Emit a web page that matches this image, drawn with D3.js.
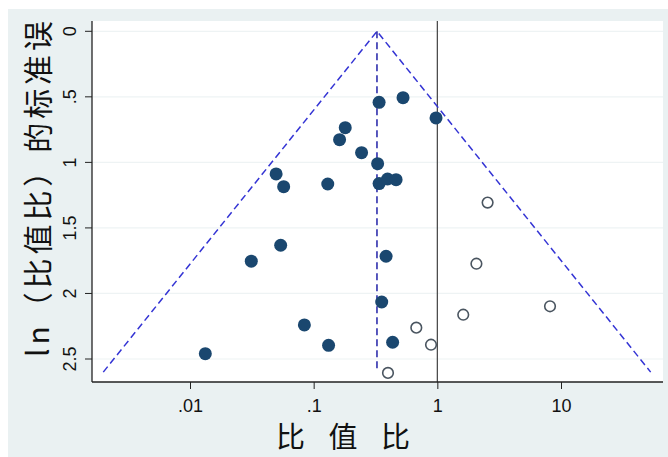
<!DOCTYPE html>
<html><head><meta charset="utf-8">
<script src="https://cdn.jsdelivr.net/npm/d3@7"></script>
<style>html,body{margin:0;padding:0;background:#fff}svg{display:block}</style>
</head><body>
<script>
// ---- data ----
const studyOR = [0.338,0.528,0.976,0.180,0.162,0.244,0.329,0.0497,0.0572,0.130,0.338,0.396,0.464,0.0541,0.0313,0.385,0.355,0.0841,0.132,0.435,0.0133];
const studySE = [0.542,0.506,0.661,0.735,0.827,0.926,1.010,1.088,1.185,1.165,1.162,1.127,1.132,1.632,1.754,1.716,2.065,2.240,2.396,2.372,2.459];
const filledOR = [2.07,1.62,0.676,0.889,0.399,2.55,8.15];
const filledSE = [1.773,2.162,2.261,2.391,2.606,1.307,2.098];
const pooledOR = 0.325;
const funnelMaxSE = 2.6;
const xTicks = [0.01,0.1,1,10];
const xTickLabels = [".01",".1","1","10"];
const yTicks = [0,0.5,1,1.5,2,2.5];
const yTickLabels = ["0",".5","1","1.5","2","2.5"];
const xTitle = "比 值 比";
const yTitle = "ln（比值比）的标准误";

const W=668,H=457;
const svg=d3.select("body").append("svg").attr("width",W).attr("height",H);
svg.append("rect").attr("width",W).attr("height",H).attr("fill","#fff");
svg.append("rect").attr("x",8).attr("y",9).attr("width",W-8).attr("height",H-9).attr("fill","#eaf1f2");
const L=92,R=663,T=21,B=382;
svg.append("rect").attr("x",L).attr("y",T).attr("width",R-L).attr("height",B-T).attr("fill","#fff");

const x=d3.scaleLog().domain([0.01,10]).range([190,561]);
const y=d3.scaleLinear().domain([0,2.5]).range([31.3,359]);

// grid
svg.append("g").selectAll("line").data(yTicks).join("line")
  .attr("x1",L).attr("x2",R).attr("y1",d=>y(d)).attr("y2",d=>y(d))
  .attr("stroke","#eef3f4").attr("stroke-width",1.2);

// reference line at OR=1
svg.append("line").attr("x1",x(1)).attr("x2",x(1)).attr("y1",T).attr("y2",B)
  .attr("stroke","#404040").attr("stroke-width",1.2);

// funnel
const lp=Math.log(pooledOR);
const fl=[[Math.exp(lp-1.96*funnelMaxSE),funnelMaxSE],[pooledOR,0],[Math.exp(lp+1.96*funnelMaxSE),funnelMaxSE]];
svg.append("path").attr("d",d3.line().x(d=>x(d[0])).y(d=>y(d[1]))(fl))
  .attr("fill","none").attr("stroke","#3434d4").attr("stroke-width",1.5).attr("stroke-dasharray","7,4");
svg.append("line").attr("x1",x(pooledOR)).attr("x2",x(pooledOR)).attr("y1",y(0)).attr("y2",y(funnelMaxSE))
  .attr("stroke","#2222a8").attr("stroke-width",1.5).attr("stroke-dasharray","7,4");

// points
svg.append("g").selectAll("circle").data(studyOR.map((v,i)=>[v,studySE[i]])).join("circle")
  .attr("cx",d=>x(d[0])).attr("cy",d=>y(d[1])).attr("r",6.5).attr("fill","#1a476f");
svg.append("g").selectAll("circle").data(filledOR.map((v,i)=>[v,filledSE[i]])).join("circle")
  .attr("cx",d=>x(d[0])).attr("cy",d=>y(d[1])).attr("r",5.3).attr("fill","none")
  .attr("stroke","#4a5560").attr("stroke-width",1.6);

// axes
const ax=svg.append("g").attr("transform",`translate(0,${B})`)
  .call(d3.axisBottom(x).tickValues(xTicks).tickFormat((d,i)=>xTickLabels[i]).tickSize(7).tickPadding(10));
ax.select(".domain").remove();
ax.selectAll("line").attr("stroke","#222");
ax.selectAll("text").attr("font-family","Liberation Sans, Arial, sans-serif").attr("font-size",18).attr("fill","#111");
svg.append("line").attr("x1",L).attr("x2",R).attr("y1",B).attr("y2",B).attr("stroke","#222").attr("stroke-width",1.3);

const ay=svg.append("g").attr("transform",`translate(${L},0)`)
  .call(d3.axisLeft(y).tickValues(yTicks).tickFormat((d,i)=>yTickLabels[i]).tickSize(7).tickPadding(4));
ay.select(".domain").remove();
ay.selectAll("line").attr("stroke","#222");
ay.selectAll(".tick").each(function(d){
  const t=d3.select(this).attr("transform",null);
  t.select("line").attr("y1",y(d)).attr("y2",y(d));
  t.select("text").attr("font-family","Liberation Sans, Arial, sans-serif").attr("font-size",18).attr("fill","#111")
    .attr("text-anchor","middle").attr("dy",null).attr("x",0).attr("y",0)
    .attr("dominant-baseline","central")
    .attr("transform",`translate(-22,${y(d)}) rotate(-90)`);
});
svg.append("line").attr("x1",L).attr("x2",L).attr("y1",T).attr("y2",B).attr("stroke","#222").attr("stroke-width",1.3);

// titles
svg.append("text").attr("x",343).attr("y",448).attr("text-anchor","middle")
  .attr("textLength",134).attr("lengthAdjust","spacing")
  .attr("font-family","Noto Sans CJK SC, sans-serif").attr("font-size",29).attr("fill","#111").text(xTitle);
svg.append("text").attr("transform","translate(36,189) rotate(-90)").attr("text-anchor","middle")
  .attr("dominant-baseline","central").attr("textLength",336).attr("lengthAdjust","spacing")
  .attr("font-family","Noto Sans CJK SC, sans-serif").attr("font-size",30).attr("fill","#111").text(yTitle);
</script>
</body></html>
